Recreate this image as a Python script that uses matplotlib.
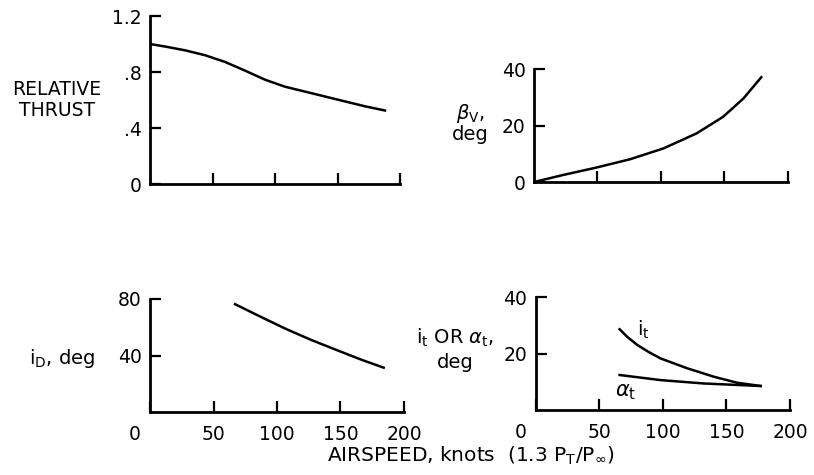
import matplotlib
matplotlib.use('Agg')
import matplotlib.pyplot as plt
from matplotlib.transforms import ScaledTranslation

plt.rcParams['font.family'] = 'DejaVu Sans'
plt.rcParams['mathtext.fontset'] = 'dejavusans'

speed_ticks = [0, 50, 100, 150, 200]

thrust_x = [0, 12, 28, 44, 60, 76, 92, 108, 124, 140, 156, 172, 188]
thrust_y = [1.0, 0.982, 0.955, 0.92, 0.872, 0.81, 0.745, 0.695, 0.66, 0.625, 0.59, 0.555, 0.525]

beta_x = [0, 23, 49, 76, 102, 128, 149, 165, 179]
beta_y = [0, 2.5, 5.1, 8.1, 11.9, 17.2, 23.1, 29.6, 37.1]

id_x = [67, 87, 107, 127, 147, 167, 184]
id_y = [76.3, 67.5, 58.9, 51.1, 44.0, 37.0, 31.6]

it_x = [66, 72, 80, 89, 98, 119, 140, 158, 177]
it_y = [28.6, 25.9, 23.0, 20.5, 18.3, 14.8, 11.8, 9.7, 8.5]

at_x = [66, 98, 132, 177]
at_y = [12.4, 10.6, 9.4, 8.5]

fig = plt.figure(figsize=(8.14, 4.75), dpi=100)

ax_thr = fig.add_axes([0.1843, 0.6126, 0.3071, 0.3537])
ax_beta = fig.add_axes([0.656, 0.6168, 0.312, 0.2379])
ax_id = fig.add_axes([0.1843, 0.1316, 0.312, 0.239])
ax_it = fig.add_axes([0.6581, 0.1368, 0.3124, 0.2379])

lw = 1.8
for ax in [ax_thr, ax_beta, ax_id, ax_it]:
    ax.set_xlim(0, 200)
    for s in ['top', 'right']:
        ax.spines[s].set_visible(False)
    for s in ['left', 'bottom']:
        ax.spines[s].set_linewidth(2.0)
    ax.tick_params(direction='in', length=8, width=1.6, labelsize=13.5, pad=6)
    ax.tick_params(axis='x', pad=9)
    ax.patch.set_visible(False)

# relative thrust
ax_thr.plot(thrust_x, thrust_y, color='black', lw=lw)
ax_thr.set_ylim(0, 1.2)
ax_thr.set_yticks([0, 0.4, 0.8, 1.2])
ax_thr.set_yticklabels(['0', '.4', '.8', '1.2'])
ax_thr.set_xticks(speed_ticks[1:])
ax_thr.set_xticklabels([])

# beta_v
ax_beta.plot(beta_x, beta_y, color='black', lw=lw)
ax_beta.set_ylim(0, 40)
ax_beta.set_yticks([0, 20, 40])
ax_beta.set_xticks(speed_ticks[1:])
ax_beta.set_xticklabels([])

# i_D
ax_id.plot(id_x, id_y, color='black', lw=lw)
ax_id.set_ylim(0, 80)
ax_id.set_yticks([40, 80])
ax_id.set_xticks(speed_ticks)

# i_t / alpha_t
ax_it.plot(it_x, it_y, color='black', lw=lw)
ax_it.plot(at_x, at_y, color='black', lw=lw)
ax_it.set_ylim(0, 40)
ax_it.set_yticks([20, 40])
ax_it.set_xticks(speed_ticks)
ax_it.text(84.5, 28.3, r'$\mathregular{i_t}$', fontsize=14, ha='center', va='center')
ax_it.text(70.3, 6.4, r'$\alpha_\mathregular{t}$', fontsize=15, ha='center', va='center')

# the "0" under the origin sits left of the axis in the original
shift = ScaledTranslation(-0.15, 0, fig.dpi_scale_trans)
for ax in [ax_id, ax_it]:
    lab = ax.get_xticklabels()[0]
    lab.set_transform(lab.get_transform() + shift)

# axis titles
fig.text(57 / 814, 1 - 100 / 475, 'RELATIVE\nTHRUST', ha='center', va='center',
         fontsize=13.5, linespacing=1.1)
fig.text(470 / 814, 1 - 123 / 475, r'$\beta_\mathregular{V}$,' + '\ndeg', ha='center',
         va='center', fontsize=14, linespacing=1.05)
fig.text(62 / 814, 1 - 359 / 475, r'$\mathregular{i_D}$, deg', ha='center', va='center',
         fontsize=14)
fig.text(455 / 814, 1 - 338 / 475, r'$\mathregular{i_t}$ OR $\alpha_\mathregular{t}$,',
         ha='center', va='center', fontsize=14)
fig.text(455 / 814, 1 - 363 / 475, 'deg', ha='center', va='center', fontsize=14)
fig.text(471 / 814, 1 - 456 / 475,
         r'AIRSPEED, knots  $\mathregular{\left(1.3\ P_T/P_\infty\right)}$',
         ha='center', va='center', fontsize=14.5)

fig.savefig('out.png', dpi=100)
